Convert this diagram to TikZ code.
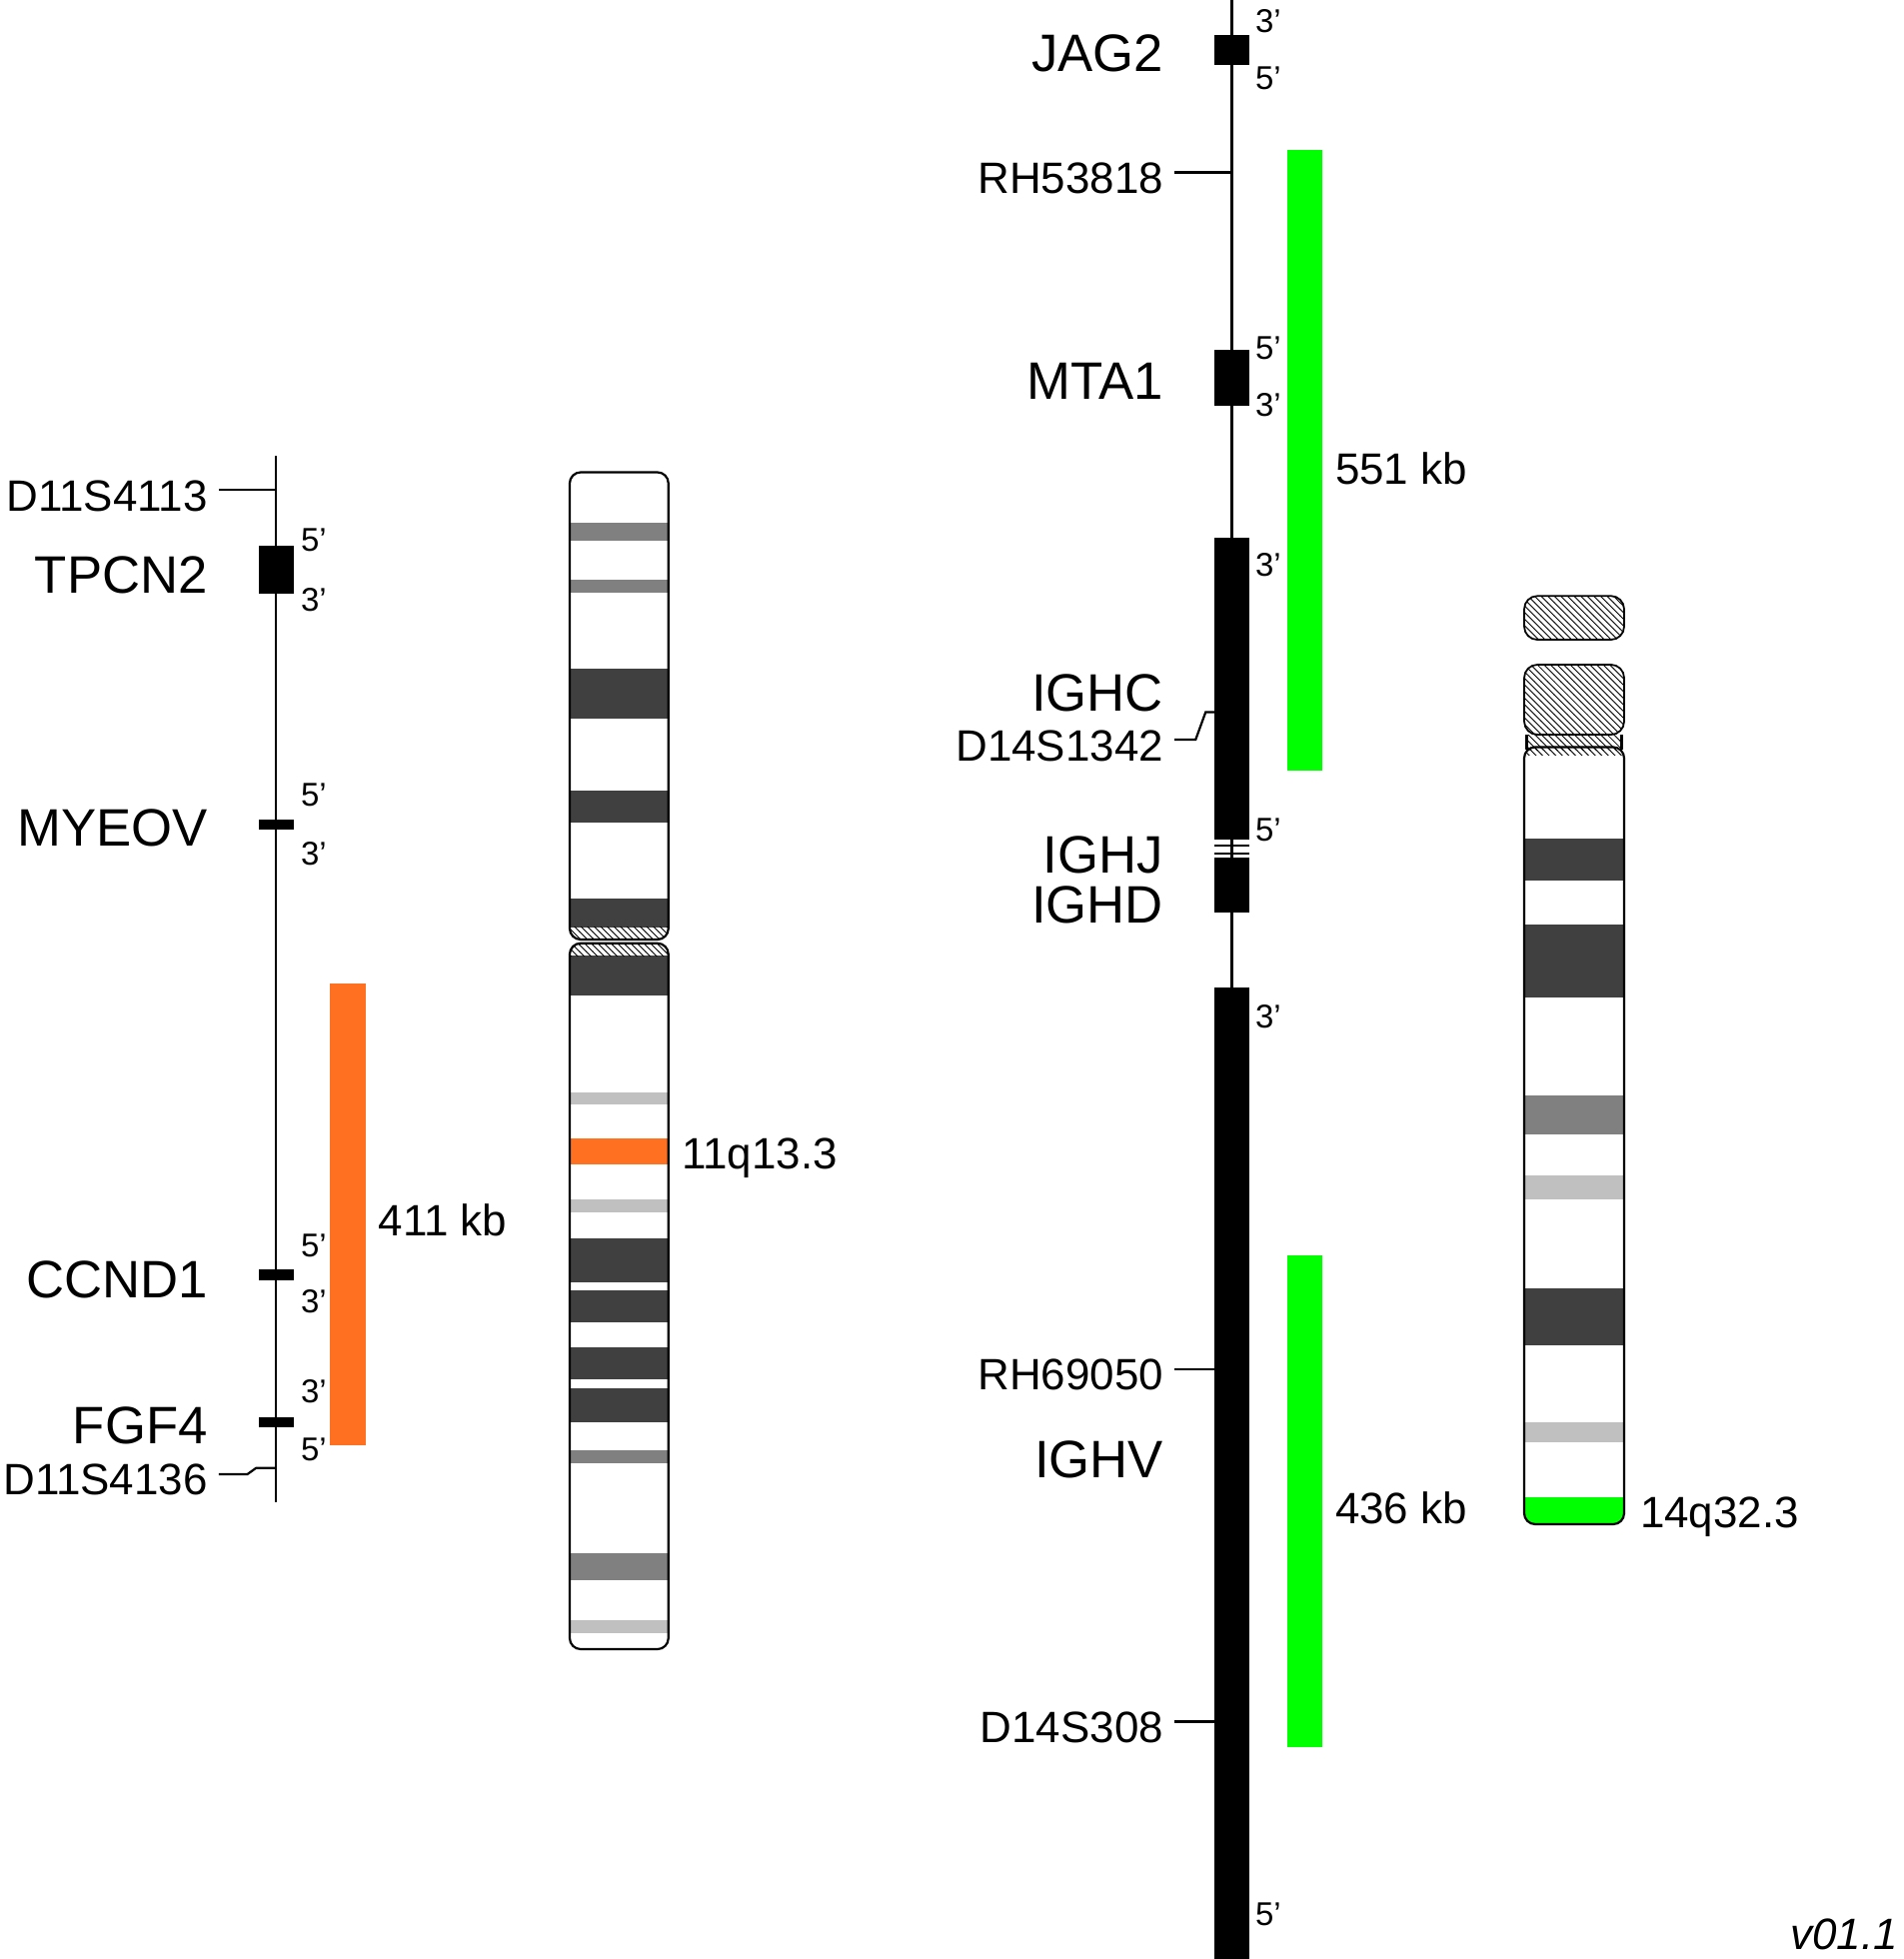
\documentclass[tikz,border=0pt]{standalone}
\usepackage{fontspec}
\setmainfont{Liberation Sans}
\usetikzlibrary{patterns}
\definecolor{dkband}{HTML}{404040}
\definecolor{mdband}{HTML}{808080}
\definecolor{ltband}{HTML}{C0C0C0}
\definecolor{orgbar}{HTML}{FF7020}
\definecolor{grnbar}{HTML}{00FF00}
\tikzset{
  gene/.style={font=\fontsize{24}{26}\selectfont, anchor=east, inner sep=0pt},
  marker/.style={font=\fontsize{20}{22}\selectfont, anchor=east, inner sep=0pt},
  endlab/.style={font=\fontsize{15}{17}\selectfont, anchor=west, inner sep=0pt},
  bandlab/.style={font=\fontsize{20}{22}\selectfont, anchor=west, inner sep=0pt},
  hatch/.style={pattern=north west lines, draw=black, line width=0.8pt},
}
\begin{document}
\begin{tikzpicture}[x=0.02cm,y=-0.02cm,line width=1pt]
  \useasboundingbox (0,0) rectangle (1524,1568);

  % chromosome 11 map
  \draw (221,365) -- (221,1202);
  \draw (175,392) -- (221,392);
  \node[marker] (d4113) at (167,397) {D11S4113};
  \fill (207,437) rectangle (235,475);
  \node[gene] (tpcn2) at (167,460) {TPCN2};
  \node[endlab] (t5) at (240,432) {5'};
  \node[endlab] (t3) at (240,480) {3'};
  \fill (207,656) rectangle (235,664);
  \node[gene] (myeov) at (167,663) {MYEOV};
  \node[endlab] (m5) at (240,636) {5'};
  \node[endlab] (m3) at (240,683) {3'};
  \fill (207,1016) rectangle (235,1025);
  \node[gene] (ccnd1) at (167,1024) {CCND1};
  \node[endlab] (c5) at (240,997) {5'};
  \node[endlab] (c3) at (240,1042) {3'};
  \fill (207,1134) rectangle (235,1142);
  \node[gene] (fgf4) at (167,1141) {FGF4};
  \node[endlab] (f3) at (240,1114) {3'};
  \node[endlab] (f5) at (240,1160) {5'};
  \draw (175,1180) -- (198,1180) -- (205,1175) -- (221,1175);
  \node[marker] (d4136) at (167,1184) {D11S4136};
  \fill[orgbar] (264,787) rectangle (293,1157);
  \node[bandlab] (kb411) at (302,977) {411 kb};

  % ideogram 11
  \begin{scope}
    \clip[rounded corners=5pt] (456,378) rectangle (535,752);
    \fill[white] (456,378) rectangle (535,752);
    \foreach \a/\b/\c in {418/433/mdband,464/474/mdband,535/575/dkband,633/658/dkband,719/742/dkband}
      \fill[\c] (456,\a) rectangle (535,\b);
    \fill[pattern=north west lines] (456,742) rectangle (535,752);
  \end{scope}
  \draw[rounded corners=5pt] (456,378) rectangle (535,752);
  \begin{scope}
    \clip[rounded corners=5pt] (456,755) rectangle (535,1320);
    \foreach \a/\b/\c in {765/797/dkband,874/884/ltband,911/932/orgbar,960/970/ltband,991/1026/dkband,1033/1058/dkband,1078/1104/dkband,1111/1138/dkband,1161/1171/mdband,1243/1265/mdband,1297/1307/ltband}
      \fill[\c] (456,\a) rectangle (535,\b);
    \fill[pattern=north west lines] (456,755) rectangle (535,765);
  \end{scope}
  \draw[rounded corners=5pt] (456,755) rectangle (535,1320);
  \node[bandlab] (q133) at (545,927) {11q13.3};

  % chromosome 14 map
  \draw (986,0) -- (986,1568);
  \fill (972,28) rectangle (1000,52);
  \node[gene] (jag2) at (932,43) {JAG2};
  \node[endlab] (j3) at (1004,17) {3'};
  \node[endlab] (j5) at (1004,63) {5'};
  \draw (940,138) -- (986,138);
  \node[marker] (rh538) at (932,143) {RH53818};
  \fill (972,280) rectangle (1000,325);
  \node[gene] (mta1) at (932,305) {MTA1};
  \node[endlab] (a5) at (1004,279) {5'};
  \node[endlab] (a3) at (1004,324) {3'};
  \fill (972,430) rectangle (1000,672);
  \node[endlab] (g3) at (1004,452) {3'};
  \node[endlab] (g5) at (1004,664) {5'};
  \node[gene] (ighc) at (932,555) {IGHC};
  \draw (940,592) -- (957,592) -- (965,570) -- (972,570);
  \node[marker] (d1342) at (932,597) {D14S1342};
  \draw (972,677) -- (1000,677) (972,683) -- (1000,683);
  \fill (972,686) rectangle (1000,730);
  \node[gene] (ighj) at (932,684) {IGHJ};
  \node[gene] (ighd) at (932,724) {IGHD};
  \fill (972,790) rectangle (1000,1568);
  \node[endlab] (v3) at (1004,814) {3'};
  \node[endlab] (v5) at (1004,1532) {5'};
  \draw (940,1096) -- (972,1096);
  \node[marker] (rh690) at (932,1100) {RH69050};
  \node[gene] (ighv) at (932,1168) {IGHV};
  \draw (940,1378) -- (972,1378);
  \node[marker] (d308) at (932,1383) {D14S308};
  \fill[grnbar] (1030,120) rectangle (1058,617);
  \fill[grnbar] (1030,1005) rectangle (1058,1398);
  \node[bandlab] (kb551) at (1068,375) {551 kb};
  \node[bandlab] (kb436) at (1068,1207) {436 kb};

  % ideogram 14
  \draw[hatch, rounded corners=6pt] (1220,477) rectangle (1300,512);
  \draw[hatch, rounded corners=6pt] (1220,532) rectangle (1300,588);
  \fill[pattern=north west lines] (1222,588) rectangle (1298,600);
  \draw (1222,588) -- (1222,600) (1298,588) -- (1298,600);
  \begin{scope}
    \clip[rounded corners=5pt] (1220,598) rectangle (1300,1220);
    \fill[pattern=north west lines] (1220,598) rectangle (1300,604);
    \foreach \a/\b/\c in {671/705/dkband,740/798/dkband,877/908/mdband,941/960/ltband,1031/1077/dkband,1138/1154/ltband,1198/1220/grnbar}
      \fill[\c] (1220,\a) rectangle (1300,\b);
  \end{scope}
  \draw[rounded corners=5pt] (1220,598) rectangle (1300,1220);
  \node[bandlab] (q323) at (1312,1214) {14q32.3};

  \node[font=\fontsize{20}{22}\selectfont\itshape, anchor=east, inner sep=0pt] (ver) at (1520,1548) {v01.1};
\end{tikzpicture}
\end{document}
